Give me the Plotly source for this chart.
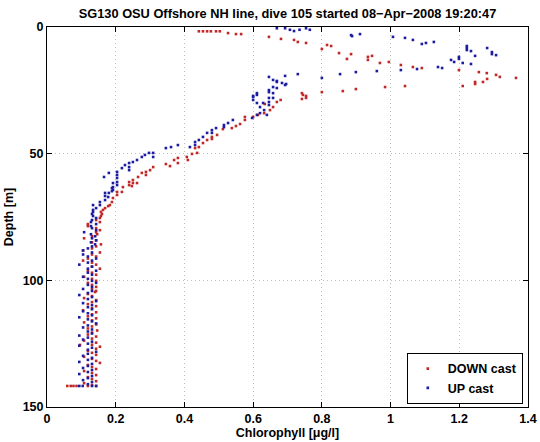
import plotly.graph_objects as go

# ---- DOWN cast (depth [m], chlorophyll [ug/l]) ----
DOWN_DEPTH = [
    1.7, 1.7, 1.7, 1.7, 1.7, 1.7, 2.4, 2.8, 2.8, 3.9,
    4.7, 5.1, 5.9, 6.3, 7.1, 7.5, 8.7, 10.3, 10.7, 11.4,
    11.8, 12.6, 13.0, 13.8, 14.2, 15.0, 15.8, 16.2, 17.0, 17.8,
    18.2, 18.9, 19.7, 20.1, 20.5, 21.7, 21.7, 22.5, 23.3, 23.3,
    23.7, 24.5, 25.3, 25.7, 26.1, 26.8, 27.2, 28.0, 28.4, 28.8,
    29.6, 30.4, 31.6, 32.8, 34.0, 34.7, 35.5, 35.5, 36.7, 38.3,
    39.1, 39.9, 40.3, 42.6, 43.4, 44.2, 44.6, 45.8, 47.4, 47.8,
    49.7, 50.1, 51.3, 52.5, 51.7, 53.7, 52.5, 54.1, 54.9, 55.3,
    56.5, 57.2, 58.4, 57.6, 59.2, 60.4, 61.6, 61.2, 62.4, 63.2,
    61.6, 62.8, 65.1, 65.1, 66.3, 67.5, 69.1, 70.3, 70.7, 71.5,
    72.2, 73.0, 73.8, 74.6, 75.4, 76.2, 77.0, 77.8, 78.6, 79.4,
    80.2, 81.0, 81.8, 82.6, 83.4, 84.2, 85.0, 85.8, 86.6, 87.4,
    88.2, 89.0, 89.8, 90.6, 91.4, 92.2, 93.0, 93.8, 94.6, 95.4,
    96.2, 97.0, 97.8, 98.6, 99.4, 100.2, 101.0, 101.8, 102.6, 103.4,
    104.2, 104.6, 105.4, 106.2, 107.0, 107.8, 108.6, 109.4, 110.2, 111.0,
    111.8, 112.6, 113.4, 114.2, 115.0, 115.8, 116.6, 117.4, 118.2, 119.0,
    119.8, 120.6, 121.4, 122.2, 123.0, 123.8, 124.6, 125.4, 125.5, 126.2,
    127.0, 127.8, 128.6, 129.4, 130.2, 131.0, 131.8, 132.6, 133.4, 134.2,
    135.0, 135.8, 136.6, 137.4, 138.2, 139.0, 139.8, 140.6, 141.4, 141.7,
    141.7, 141.7, 141.7, 141.7, 141.7,
]
DOWN_CHL = [
    0.442, 0.454, 0.466, 0.477, 0.492, 0.503, 0.527, 0.550, 0.565, 0.646,
    0.681, 0.719, 0.730, 0.754, 0.815, 0.827, 0.800, 0.850, 0.885, 0.946,
    0.934, 0.873, 0.934, 0.995, 0.969, 1.030, 1.065, 1.091, 1.199, 1.257,
    1.280, 1.307, 1.318, 1.365, 1.281, 1.246, 1.269, 1.246, 1.210, 1.042,
    0.984, 0.899, 0.861, 0.800, 0.742, 0.745, 0.754, 0.754, 0.742, 0.680,
    0.669, 0.634, 0.658, 0.649, 0.632, 0.614, 0.600, 0.576, 0.576, 0.562,
    0.550, 0.538, 0.512, 0.495, 0.480, 0.480, 0.466, 0.454, 0.442, 0.431,
    0.437, 0.422, 0.407, 0.410, 0.381, 0.381, 0.370, 0.346, 0.358, 0.309,
    0.300, 0.288, 0.288, 0.276, 0.265, 0.250, 0.250, 0.239, 0.239, 0.221,
    0.262, 0.247, 0.218, 0.204, 0.204, 0.192, 0.189, 0.183, 0.178, 0.169,
    0.163, 0.157, 0.160, 0.157, 0.154, 0.143, 0.154, 0.119, 0.119, 0.143,
    0.154, 0.143, 0.146, 0.131, 0.108, 0.143, 0.131, 0.157, 0.143, 0.131,
    0.105, 0.154, 0.131, 0.143, 0.119, 0.105, 0.131, 0.143, 0.131, 0.154,
    0.119, 0.131, 0.143, 0.108, 0.131, 0.143, 0.119, 0.131, 0.143, 0.131,
    0.143, 0.140, 0.119, 0.131, 0.108, 0.143, 0.131, 0.119, 0.143, 0.131,
    0.105, 0.143, 0.131, 0.119, 0.143, 0.131, 0.108, 0.143, 0.131, 0.119,
    0.146, 0.131, 0.119, 0.143, 0.131, 0.108, 0.143, 0.131, 0.096, 0.154,
    0.143, 0.119, 0.131, 0.143, 0.108, 0.131, 0.143, 0.154, 0.119, 0.131,
    0.143, 0.108, 0.131, 0.143, 0.119, 0.131, 0.143, 0.108, 0.131, 0.143,
    0.059, 0.069, 0.077, 0.086, 0.119,
]

# ---- UP cast ----
UP_DEPTH = [
    0.5, 0.5, 0.5, 1.1, 1.1, 1.6, 1.1, 2.8, 3.6, 3.2,
    3.9, 4.3, 5.1, 6.7, 6.3, 5.9, 7.5, 8.3, 9.1, 9.5,
    8.3, 9.9, 10.7, 11.1, 11.4, 11.8, 12.6, 13.0, 13.8, 14.2,
    14.6, 15.8, 16.2, 16.6, 17.0, 17.4, 17.8, 18.6, 18.6, 19.3,
    20.1, 19.7, 20.9, 21.3, 21.7, 22.1, 22.5, 22.9, 23.7, 24.1,
    24.9, 25.7, 26.1, 26.1, 26.8, 27.2, 27.6, 28.0, 28.0, 28.8,
    29.6, 30.0, 30.0, 30.8, 31.6, 32.8, 34.0, 34.7, 34.7, 35.9,
    36.7, 37.9, 38.7, 39.5, 39.9, 40.7, 41.8, 41.8, 43.4, 44.6,
    45.4, 46.6, 47.4, 46.6, 47.4, 47.8, 49.7, 51.3, 49.7, 50.5,
    51.3, 52.5, 53.3, 53.7, 55.3, 56.5, 54.5, 55.7, 57.2, 58.4,
    59.6, 57.6, 59.2, 61.6, 63.2, 64.3, 65.5, 65.5, 67.1, 61.2,
    62.4, 63.6, 64.8, 66.7, 68.3, 69.1, 70.3, 70.3, 71.5, 72.2,
    73.0, 73.8, 74.6, 75.4, 76.2, 77.0, 77.8, 78.6, 79.4, 80.2,
    81.0, 81.8, 82.6, 83.4, 84.2, 85.0, 85.8, 86.6, 87.4, 88.2,
    89.0, 89.8, 90.6, 91.4, 92.2, 93.0, 93.8, 94.6, 95.4, 96.2,
    97.0, 97.8, 98.6, 99.4, 100.2, 101.0, 101.8, 102.6, 103.4, 104.2,
    105.0, 105.8, 106.6, 107.4, 108.2, 109.0, 109.8, 110.6, 111.4, 112.2,
    113.0, 113.8, 114.6, 115.4, 116.2, 117.0, 117.8, 118.6, 119.4, 120.2,
    121.0, 121.8, 122.6, 123.4, 124.2, 125.0, 125.8, 126.6, 127.4, 128.2,
    129.0, 129.8, 130.6, 131.4, 132.2, 133.0, 133.8, 134.6, 135.4, 136.2,
    137.0, 137.8, 138.6, 139.4, 140.2, 141.0, 141.7, 141.7, 141.7, 141.7,
]
UP_CHL = [
    0.669, 0.693, 0.754, 0.707, 0.765, 0.719, 0.735, 0.911, 0.888, 0.885,
    1.007, 1.042, 1.065, 1.091, 1.103, 1.126, 1.222, 1.222, 1.222, 1.234,
    1.281, 1.295, 1.295, 1.307, 1.246, 1.199, 1.199, 1.176, 1.185, 1.210,
    1.234, 1.138, 1.150, 1.077, 1.030, 0.960, 0.899, 0.853, 0.730, 0.693,
    0.800, 0.646, 0.658, 0.669, 0.669, 0.684, 0.696, 0.693, 0.658, 0.669,
    0.646, 0.646, 0.658, 0.611, 0.611, 0.600, 0.600, 0.646, 0.658, 0.600,
    0.646, 0.611, 0.629, 0.646, 0.620, 0.632, 0.620, 0.640, 0.611, 0.597,
    0.541, 0.527, 0.515, 0.515, 0.492, 0.480, 0.480, 0.466, 0.454, 0.442,
    0.431, 0.431, 0.416, 0.381, 0.361, 0.346, 0.309, 0.309, 0.297, 0.285,
    0.276, 0.262, 0.250, 0.239, 0.239, 0.239, 0.227, 0.218, 0.204, 0.204,
    0.204, 0.180, 0.166, 0.192, 0.192, 0.192, 0.180, 0.169, 0.178, 0.204,
    0.204, 0.189, 0.189, 0.169, 0.169, 0.154, 0.154, 0.134, 0.143, 0.134,
    0.134, 0.131, 0.134, 0.143, 0.131, 0.128, 0.143, 0.128, 0.131, 0.143,
    0.108, 0.128, 0.140, 0.131, 0.143, 0.128, 0.140, 0.131, 0.119, 0.105,
    0.131, 0.105, 0.119, 0.143, 0.131, 0.119, 0.094, 0.131, 0.119, 0.143,
    0.119, 0.131, 0.105, 0.119, 0.131, 0.143, 0.119, 0.131, 0.105, 0.131,
    0.119, 0.094, 0.131, 0.119, 0.143, 0.105, 0.131, 0.119, 0.131, 0.105,
    0.119, 0.131, 0.094, 0.119, 0.131, 0.143, 0.119, 0.105, 0.131, 0.119,
    0.131, 0.094, 0.119, 0.105, 0.131, 0.119, 0.094, 0.131, 0.119, 0.143,
    0.119, 0.105, 0.131, 0.119, 0.094, 0.131, 0.119, 0.105, 0.131, 0.119,
    0.094, 0.131, 0.119, 0.105, 0.131, 0.119, 0.094, 0.104, 0.131, 0.143,
]

X_TICKS = [0, 0.2, 0.4, 0.6, 0.8, 1.0, 1.2, 1.4]
X_LABELS = ["0", "0.2", "0.4", "0.6", "0.8", "1", "1.2", "1.4"]
Y_TICKS = [0, 50, 100, 150]
Y_LABELS = ["0", "50", "100", "150"]

assert len(DOWN_DEPTH) == len(DOWN_CHL)
assert len(UP_DEPTH) == len(UP_CHL)

FONT = "Liberation Sans, Arial, sans-serif"

fig = go.Figure()
fig.add_trace(go.Scatter(
    x=DOWN_CHL, y=DOWN_DEPTH, mode="markers", name="DOWN cast",
    marker=dict(symbol="square", size=2.6, color="#c02828", line=dict(width=0)),
))
fig.add_trace(go.Scatter(
    x=UP_CHL, y=UP_DEPTH, mode="markers", name="UP cast",
    marker=dict(symbol="square", size=2.6, color="#1c1ca0", line=dict(width=0)),
))

axis_common = dict(
    showline=True, linecolor="black", linewidth=1, mirror="ticks",
    ticks="inside", ticklen=5, tickcolor="black",
    showgrid=True, gridcolor="#bdbdbd", griddash="1px,3px", gridwidth=1,
    zeroline=False, automargin=False,
    tickfont=dict(family=FONT, size=12.5, color="black", weight="bold"),
)

fig.update_layout(
    width=540, height=442,
    margin=dict(l=47, r=12, t=27, b=35),
    paper_bgcolor="white", plot_bgcolor="white",
    title=dict(
        text="SG130 OSU Offshore NH line, dive 105 started 08\u2212Apr\u22122008 19:20:47",
        font=dict(family=FONT, size=12.8, color="black", weight="bold"),
        x=0.5, xref="paper", xanchor="center",
        y=1 - 14 / 442, yref="container", yanchor="middle",
    ),
    xaxis=dict(
        range=[0, 1.4], tickvals=X_TICKS, ticktext=X_LABELS,
        title=dict(text="Chlorophyll [\u03bcg/l]", standoff=2,
                   font=dict(family=FONT, size=12.5, color="black", weight="bold")),
        **axis_common,
    ),
    yaxis=dict(
        range=[150, 0], tickvals=Y_TICKS, ticktext=Y_LABELS,
        title=dict(text="Depth [m]", standoff=6,
                   font=dict(family=FONT, size=12.5, color="black", weight="bold")),
        **axis_common,
    ),
    legend=dict(
        x=0.748, y=0.008, xanchor="left", yanchor="bottom",
        bgcolor="white", bordercolor="black", borderwidth=1,
        font=dict(family=FONT, size=12.5, color="black", weight="bold"),
        itemwidth=30, tracegroupgap=0,
    ),
    showlegend=True,
)

fig.write_html("out.html", config={"displayModeBar": False},
               post_script="document.body.style.margin='0';")
